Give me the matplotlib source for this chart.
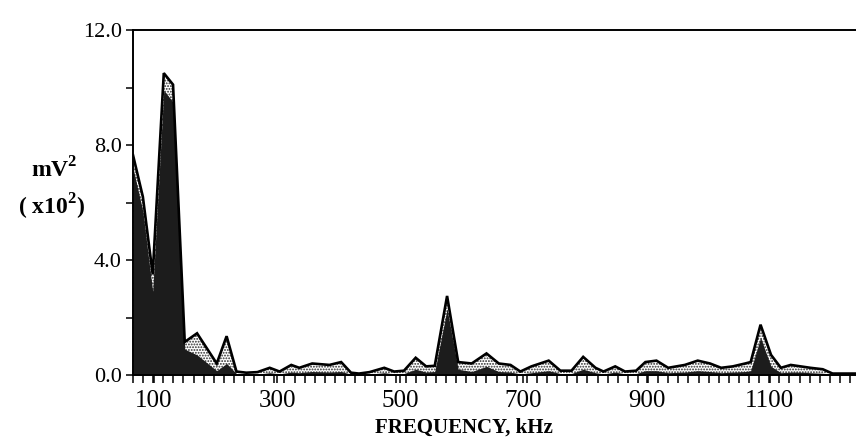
import numpy as np
import matplotlib
matplotlib.use("Agg")
import matplotlib.pyplot as plt
from matplotlib.ticker import FixedLocator

# spectrum vertices (kHz, mV^2 x 10^2)
freq_khz = [66, 82, 98, 116, 131, 150, 170, 202, 218, 234, 250, 268, 288, 304, 323, 336,
            357, 385, 404, 420, 433, 450, 474, 490, 506, 525, 542, 556, 576, 594, 616, 640,
            660, 679, 695, 713, 741, 760, 778, 797, 817, 830, 849, 865, 883, 898, 916, 935,
            962, 983, 1003, 1021, 1040, 1060, 1069, 1085, 1102, 1118, 1134, 1150, 1166, 1186,
            1202, 1240]
power_outer = [7.65, 6.2, 3.5, 10.5, 10.1, 1.15, 1.45, 0.4, 1.35, 0.12, 0.08, 0.1, 0.25, 0.12,
               0.35, 0.25, 0.4, 0.35, 0.45, 0.08, 0.05, 0.1, 0.25, 0.12, 0.15, 0.6, 0.3, 0.32,
               2.75, 0.45, 0.4, 0.75, 0.4, 0.35, 0.12, 0.3, 0.5, 0.15, 0.15, 0.63, 0.25, 0.12,
               0.3, 0.12, 0.15, 0.45, 0.5, 0.25, 0.35, 0.5, 0.4, 0.25, 0.3, 0.4, 0.45, 1.75,
               0.7, 0.25, 0.35, 0.3, 0.25, 0.2, 0.05, 0.05]
# darker inner layer (overlapping trace)
power_inner = [7.2, 5.7, 2.9, 9.9, 9.5, 0.9, 0.7, 0.15, 0.4, 0.05, 0.03, 0.03, 0.08, 0.04,
               0.1, 0.08, 0.12, 0.1, 0.12, 0.03, 0.02, 0.03, 0.08, 0.04, 0.05, 0.2, 0.1, 0.12,
               2.3, 0.2, 0.12, 0.3, 0.12, 0.1, 0.04, 0.08, 0.15, 0.05, 0.05, 0.2, 0.08, 0.04,
               0.1, 0.04, 0.05, 0.15, 0.15, 0.08, 0.1, 0.15, 0.12, 0.08, 0.1, 0.12, 0.15, 1.3,
               0.3, 0.08, 0.1, 0.1, 0.08, 0.06, 0.02, 0.02]

y_major = [0, 4, 8, 12]
y_labels = ["0.0", "4.0", "8.0", "12.0"]
x_major = [100, 300, 500, 700, 900, 1100]

SERIF = ["Liberation Serif", "DejaVu Serif"]
plt.rcParams["font.family"] = SERIF
plt.rcParams["mathtext.fontset"] = "custom"
plt.rcParams["mathtext.rm"] = "Liberation Serif"
plt.rcParams["mathtext.bf"] = "Liberation Serif:bold"
plt.rcParams["hatch.linewidth"] = 0.9

fig = plt.figure(figsize=(8.56, 4.45), dpi=100)
ax = fig.add_axes([133 / 856, 70 / 445, 1 - 133 / 856, 345 / 445])

f = np.array(freq_khz)
ax.fill_between(f, power_outer, color="white", hatch="......", edgecolor="#2a2a2a", lw=0)
ax.fill_between(f, power_inner, color="#1c1c1c", lw=0)
ax.plot(f, power_outer, color="black", lw=1.9, solid_joinstyle="miter")

ax.set_xlim(66, 1240)
ax.set_ylim(0, 12)
ax.spines["right"].set_visible(False)
for s in ("left", "bottom", "top"):
    ax.spines[s].set_linewidth(1.4)

ax.set_yticks(y_major)
ax.set_yticklabels(y_labels, fontsize=16)
ax.yaxis.set_minor_locator(FixedLocator([2, 6, 10]))
ax.set_xticks(x_major)
ax.set_xticklabels([str(v) for v in x_major], fontsize=18)
ax.xaxis.set_minor_locator(FixedLocator(np.arange(66, 1240, 16.4)))
ax.tick_params(axis="both", which="both", direction="out", width=1.1)
ax.tick_params(axis="x", which="both", length=6, pad=5)
ax.tick_params(axis="y", which="both", length=5, pad=3)

fig.text(54 / 856, 1 - 170 / 445, r"mV$^{\mathbf{2}}$", fontsize=17, fontweight="bold",
         ha="center", va="center")
fig.text(52 / 856, 1 - 207 / 445, r"( x10$^{\mathbf{2}}$)", fontsize=17, fontweight="bold",
         ha="center", va="center")
fig.text(464 / 856, 1 - 428 / 445, "FREQUENCY, kHz", fontsize=15, fontweight="bold",
         ha="center", va="center")

fig.savefig("out.png", dpi=100)
